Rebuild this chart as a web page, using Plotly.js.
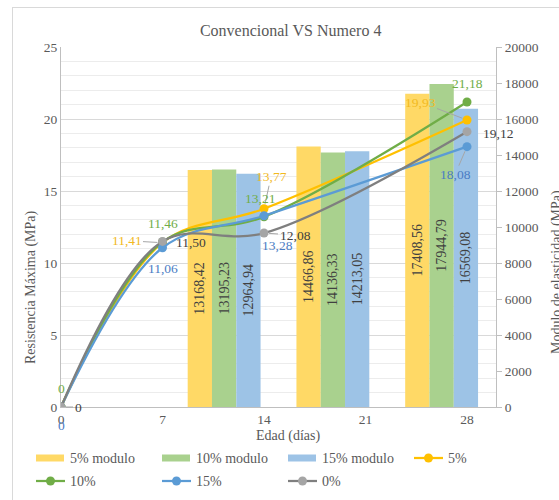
<!DOCTYPE html>
<html>
<head>
<meta charset="utf-8">
<script src="https://cdn.plot.ly/plotly-3.0.1.min.js"></script>
<style>
  html, body { margin: 0; padding: 0; background: #ffffff; overflow: hidden; }
  #frame { position: absolute; left: 12px; top: 7px; width: 600px; height: 600px; border: 1px solid #d9d9d9; box-sizing: border-box; }
  #chart { position: absolute; left: 0; top: 0; width: 559px; height: 500px; }
</style>
</head>
<body>
<div id="frame"></div>
<div id="chart"></div>
<script>
// ---- data ----
const titleText = 'Convencional VS Numero 4';
const days = [0, 7, 14, 28];
const xTicks = [0, 7, 14, 21, 28];
const seriesNames = ['5%', '10%', '15%', '0%'];
const s5 = [0, 11.41, 13.77, 19.93];
const s10 = [0, 11.46, 13.21, 21.18];
const s15 = [0, 11.06, 13.28, 18.08];
const s0 = [0, 11.50, 12.08, 19.12];
const barCategories = ['0', '7', '14', '28'];
const barNames = ['5% modulo', '10% modulo', '15% modulo'];
const mod5 = [null, 13168.42, 14466.86, 17408.56];
const mod10 = [null, 13195.23, 14136.33, 17944.79];
const mod15 = [null, 12964.94, 14213.05, 16569.08];
const leftTitle = 'Resistencia Máxima (MPa)';
const rightTitle = 'Modulo de elasticidad (MPa)';
const xTitle = 'Edad (días)';

// ---- styles ----
const FONT = '"Times New Roman", "Liberation Serif", "DejaVu Serif", serif';
const TXT = '#595959';
const barColors = ['#FFD966', '#A9D18E', '#9DC3E6'];
const lineColors = ['#FFC000', '#70AD47', '#5B9BD5', '#7F7F7F'];
const markerColors = ['#FFC000', '#70AD47', '#5B9BD5', '#A5A5A5'];
const labelColors = ['#F2B91E', '#70AD47', '#4A7CC4', '#404040'];
// label placement per series per point: [dx, dy, leader] or null
const labelPlace = [
  [null, [-36, -2, true], [7, -32, true], [-47, -18, true]],
  [[0, -19, false], [0, -18, false], [-4, -18, false], [0, -19, false]],
  [[0, 18, false], [0, 21, false], [13, 30, false], [-12, 28, true]],
  [[17, 0, true], [28, 1, false], [31, 2, true], [31, 2, false]]
];

// plot-area geometry (pixels) used for paper-coordinate placement of extras
const M = { l: 61, r: 63, t: 47, b: 93 };
const W = 559, H = 500;
const PW = W - M.l - M.r, PH = H - M.t - M.b;
const px = x => (x - M.l) / PW;
const py = y => (H - M.b - y) / PH;

function fmt(v) { return v === 0 ? '0' : v.toFixed(2).replace('.', ','); }

const barSeries = [mod5, mod10, mod15];
const traces = [];
barSeries.forEach((vals, i) => {
  traces.push({
    type: 'bar', name: barNames[i], x: barCategories, y: vals,
    xaxis: 'x', yaxis: 'y',
    marker: { color: barColors[i] },
    text: vals.map(v => v == null ? '' : fmt(v)),
    textposition: 'inside', insidetextanchor: 'middle', textangle: -90,
    textfont: { family: FONT, size: 14, color: '#404040' },
    constraintext: 'none',
    hoverinfo: 'skip', showlegend: false
  });
});
const lineSeries = [s5, s10, s15, s0];
lineSeries.forEach((vals, i) => {
  traces.push({
    type: 'scatter', mode: 'lines+markers', name: seriesNames[i],
    x: days, y: vals, xaxis: 'x2', yaxis: 'y2',
    line: { color: lineColors[i], width: 2.25, shape: 'spline', smoothing: 1 },
    marker: { color: markerColors[i], size: 9 },
    hoverinfo: 'skip', showlegend: false
  });
});

const annotations = [];
const shapes = [];
lineSeries.forEach((vals, i) => {
  vals.forEach((v, j) => {
    const p = labelPlace[i][j];
    if (!p) return;
    const a = {
      x: days[j], y: v, xref: 'x2', yref: 'y2', text: fmt(v),
      xanchor: 'center', yanchor: 'middle',
      font: { family: FONT, size: 13.5, color: labelColors[i] }
    };
    if (p[2]) {
      Object.assign(a, { showarrow: true, arrowhead: 0, ax: p[0], ay: p[1], arrowcolor: '#a6a6a6', arrowwidth: 1, standoff: 5 });
    } else {
      Object.assign(a, { showarrow: false, xshift: p[0], yshift: -p[1] });
    }
    annotations.push(a);
  });
});
// axis titles
const axisTitleFont = { family: FONT, size: 14, color: TXT };
annotations.push({ xref: 'paper', yref: 'paper', x: px(31), y: py(287), xanchor: 'center', yanchor: 'middle',
  text: leftTitle, textangle: -90, showarrow: false, font: axisTitleFont });
annotations.push({ xref: 'paper', yref: 'paper', x: px(557), y: py(272), xanchor: 'center', yanchor: 'middle',
  text: rightTitle, textangle: -90, showarrow: false, font: axisTitleFont });
annotations.push({ xref: 'paper', yref: 'paper', x: px(288), y: py(436), xanchor: 'center', yanchor: 'middle',
  text: xTitle, showarrow: false, font: axisTitleFont });

// legend (drawn as shapes + text, 4 columns x 2 rows like the original)
const legendItems = [];
barNames.forEach((n, i) => legendItems.push({ name: n, kind: 'bar', color: barColors[i] }));
seriesNames.forEach((n, i) => legendItems.push({ name: n, kind: 'line', color: lineColors[i], mcolor: markerColors[i] }));
const legendFont = { family: FONT, size: 14, color: TXT };
legendItems.forEach((it, k) => {
  const col = k % 4, row = Math.floor(k / 4);
  const x0 = 36 + col * 126, yc = 458 + row * 23;
  if (it.kind === 'bar') {
    shapes.push({ type: 'rect', xref: 'paper', yref: 'paper', x0: px(x0), x1: px(x0 + 28), y0: py(yc + 3.5), y1: py(yc - 3.5),
      fillcolor: it.color, line: { width: 0 }, layer: 'above' });
  } else {
    shapes.push({ type: 'line', xref: 'paper', yref: 'paper', x0: px(x0), x1: px(x0 + 29), y0: py(yc), y1: py(yc),
      line: { color: it.color, width: 2.25 }, layer: 'above' });
    shapes.push({ type: 'circle', xref: 'paper', yref: 'paper', x0: px(x0 + 10), x1: px(x0 + 19), y0: py(yc + 4.5), y1: py(yc - 4.5),
      fillcolor: it.mcolor, line: { width: 0 }, layer: 'above' });
  }
  annotations.push({ xref: 'paper', yref: 'paper', x: px(x0 + 32), y: py(yc), xanchor: 'left', yanchor: 'middle',
    text: it.name, showarrow: false, font: legendFont });
});

const layout = {
  width: W, height: H,
  margin: M,
  paper_bgcolor: 'rgba(0,0,0,0)', plot_bgcolor: 'rgba(0,0,0,0)',
  font: { family: FONT, color: TXT, size: 13 },
  title: { text: titleText, x: 0.52, xanchor: 'center', y: 0.94, yanchor: 'middle',
    font: { family: FONT, size: 16, color: TXT } },
  showlegend: false,
  barmode: 'group', bargap: 0.33, bargroupgap: 0,
  xaxis: { type: 'category', categoryorder: 'array', categoryarray: barCategories, range: [-0.5, 3.5],
    visible: false, fixedrange: true },
  yaxis: { side: 'right', range: [0, 20000], dtick: 2000, tick0: 0, tickformat: 'd',
    showgrid: false, zeroline: false, showline: true, linecolor: '#bfbfbf', linewidth: 1,
    ticks: 'outside', ticklen: 5, tickcolor: '#bfbfbf',
    tickfont: { family: FONT, size: 13.5, color: TXT } },
  xaxis2: { overlaying: 'x', anchor: 'y2', side: 'bottom', type: 'linear', range: [0, 30],
    tickvals: xTicks, ticktext: xTicks.map(String), showgrid: false, zeroline: false,
    showline: true, linecolor: '#bfbfbf', linewidth: 1, ticks: '',
    tickfont: { family: FONT, size: 13.5, color: TXT } },
  yaxis2: { overlaying: 'y', anchor: 'x2', side: 'left', range: [0, 25], dtick: 5, tick0: 0,
    showgrid: true, gridcolor: '#d9d9d9', gridwidth: 1, zeroline: false,
    showline: true, linecolor: '#bfbfbf', linewidth: 1, ticks: '',
    minor: { dtick: 1, showgrid: true, gridcolor: '#ececec', gridwidth: 1 },
    tickfont: { family: FONT, size: 13.5, color: TXT } },
  annotations: annotations,
  shapes: shapes
};

Plotly.newPlot('chart', traces, layout, { staticPlot: true, displayModeBar: false });
</script>
</body>
</html>
